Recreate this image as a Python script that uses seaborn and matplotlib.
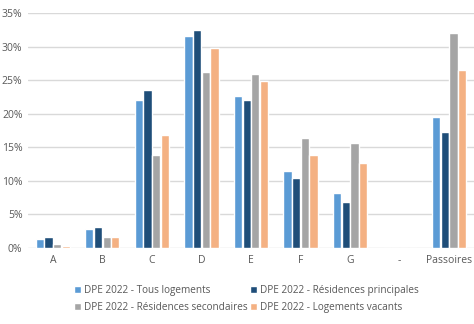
import matplotlib
matplotlib.use("Agg")
import matplotlib.pyplot as plt
import seaborn as sns
import pandas as pd
from matplotlib.ticker import PercentFormatter

categories = ["A", "B", "C", "D", "E", "F", "G", "-", "Passoires"]
series_names = [
    "DPE 2022 - Tous logements",
    "DPE 2022 - Résidences principales",
    "DPE 2022 - Résidences secondaires",
    "DPE 2022 - Logements vacants",
]
tous = [1.4, 2.9, 22.0, 31.6, 22.6, 11.4, 8.2, 0.0, 19.5]
principales = [1.7, 3.2, 23.5, 32.4, 22.0, 10.5, 6.8, 0.0, 17.3]
secondaires = [0.6, 1.7, 13.8, 26.2, 25.9, 16.4, 15.6, 0.0, 32.0]
vacants = [0.3, 1.7, 16.9, 29.8, 24.9, 13.8, 12.7, 0.0, 26.5]
colors = ["#5B9BD5", "#1F4E79", "#A5A5A5", "#F4B183"]

rows = []
for name, vals in zip(series_names, [tous, principales, secondaires, vacants]):
    for c, v in zip(categories, vals):
        rows.append({"cat": c, "serie": name, "val": v})
df = pd.DataFrame(rows)

sns.set_theme(style="white")
plt.rcParams["font.family"] = ["Open Sans", "DejaVu Sans"]

fig = plt.figure(figsize=(4.74, 3.24), dpi=100)
ax = fig.add_axes([28 / 474, 1 - 248 / 324, 446 / 474, 235 / 324])
sns.barplot(data=df, x="cat", y="val", hue="serie", order=categories,
            hue_order=series_names, palette=colors, width=0.7, gap=0.06,
            saturation=1, ax=ax, legend=True)
ax.set_ylim(0, 35)
ax.set_xlim(-0.5, 8.5)
ax.set_yticks(range(0, 36, 5))
ax.yaxis.set_major_formatter(PercentFormatter(decimals=0))
ax.set_xlabel("")
ax.set_ylabel("")
ax.grid(axis="y", color="#D9D9D9", linewidth=1)
ax.set_axisbelow(True)
for s in ax.spines.values():
    s.set_visible(False)
ax.tick_params(axis="both", length=0, labelsize=7.5, colors="#595959", pad=5)
ax.tick_params(axis="y", pad=4)

handles, labels = ax.get_legend_handles_labels()
ax.legend_.remove()
order = [0, 2, 1, 3]
fig.legend([handles[i] for i in order], [labels[i] for i in order],
           loc="upper center", bbox_to_anchor=(0.52, 1 - 276 / 324),
           ncol=2, frameon=False, fontsize=7.2, labelcolor="#595959",
           handlelength=0.7, handleheight=0.7, handletextpad=0.3,
           columnspacing=0.3, labelspacing=0.6)
fig.savefig("out.png", dpi=100)
